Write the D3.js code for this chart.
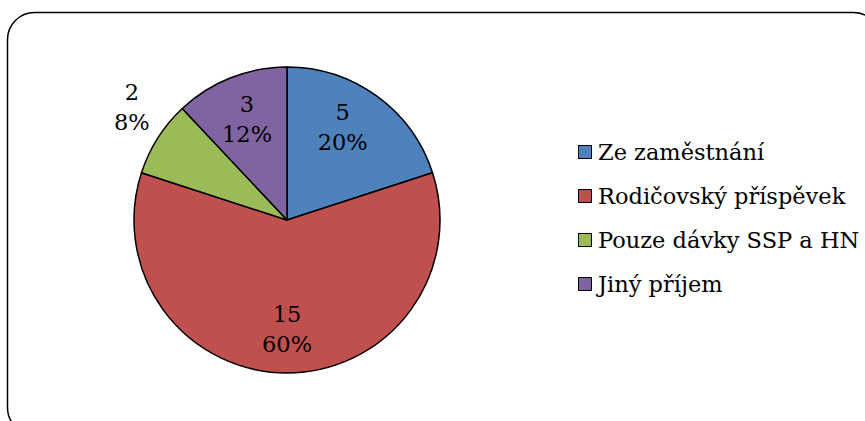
<!DOCTYPE html>
<html>
<head>
<meta charset="utf-8">
<script src="https://cdn.jsdelivr.net/npm/d3@7"></script>
<style>
  body { margin: 0; background: #fff; }
  svg text { font-family: "DejaVu Serif", serif; fill: #000; }
</style>
</head>
<body>
<svg id="chart" width="865" height="421"></svg>
<script>
// data
var categories = ["Ze zaměstnání", "Rodičovský příspěvek", "Pouze dávky SSP a HN", "Jiný příjem"];
var values = [5, 15, 2, 3];
var percents = ["20%", "60%", "8%", "12%"];
var colors = ["#4F81BD", "#C0504D", "#9BBB59", "#8064A2"];

var svgW = 865, svgH = 421;
var svg = d3.select("#chart");

// frame (runs past right and bottom edge like the original)
svg.append("rect")
	.attr("x", 7.5).attr("y", 12.5)
	.attr("width", 873).attr("height", 422)
	.attr("rx", 27).attr("ry", 27)
	.attr("fill", "#fff")
	.attr("stroke", "#000")
	.attr("stroke-width", 1.5);

var cx = 287, cy = 220, radius = 153;
var fontSize = 22.5, lineH = 30;

var data = categories.map(function(c, i) {
	return {name: c, value: values[i], pct: percents[i], color: colors[i]};
});

var pie = d3.pie().sort(null).value(function(d) { return d.value; });
var arcs = pie(data);

var arc = d3.arc().innerRadius(0).outerRadius(radius);

var g = svg.append("g").attr("transform", "translate(" + cx + "," + cy + ")");

g.selectAll("path.slice")
	.data(arcs)
	.enter()
	.append("path")
	.attr("class", "slice")
	.attr("d", arc)
	.attr("fill", function(d) { return d.data.color; })
	.attr("stroke", "#000")
	.attr("stroke-width", 1.5)
	.attr("stroke-linejoin", "round");

// label placement: inside at ~0.7 r, small slices outside (best fit like excel)
function labelPos(d, i) {
	var mid = (d.startAngle + d.endAngle) / 2;
	var span = d.endAngle - d.startAngle;
	var r = radius * 0.71;
	if (span < 0.6) {
		r = radius * 1.255;
		mid += 0.065;
	}
	// first label sits a bit closer to the top edge
	if (i === 0) mid -= 0.09;
	return [Math.sin(mid) * r, -Math.cos(mid) * r];
}

var labels = g.selectAll("text.lbl")
	.data(arcs)
	.enter()
	.append("text")
	.attr("class", "lbl")
	.attr("text-anchor", "middle")
	.attr("font-size", fontSize + "px")
	.attr("transform", function(d, i) {
		var p = labelPos(d, i);
		return "translate(" + p[0] + "," + p[1] + ")";
	});

labels.append("tspan")
	.attr("x", 0)
	.attr("y", -lineH / 2 + 8)
	.text(function(d) { return d.data.value; });
labels.append("tspan")
	.attr("x", 0)
	.attr("y", lineH / 2 + 8)
	.text(function(d) { return d.data.pct; });

// legend
var legY = d3.scalePoint()
	.domain(categories)
	.range([152, 284]);

var leg = svg.append("g").attr("class", "legend");
var items = leg.selectAll("g")
	.data(data)
	.enter()
	.append("g")
	.attr("transform", function(d) { return "translate(578," + legY(d.name) + ")"; });

items.append("rect")
	.attr("x", 0.5).attr("y", -6.5)
	.attr("width", 13).attr("height", 13)
	.attr("fill", function(d) { return d.color; })
	.attr("stroke", "#000")
	.attr("stroke-width", 1);

items.append("text")
	.attr("x", 20)
	.attr("y", 8)
	.attr("font-size", fontSize + "px")
	.text(function(d) { return d.name; });
</script>
</body>
</html>
